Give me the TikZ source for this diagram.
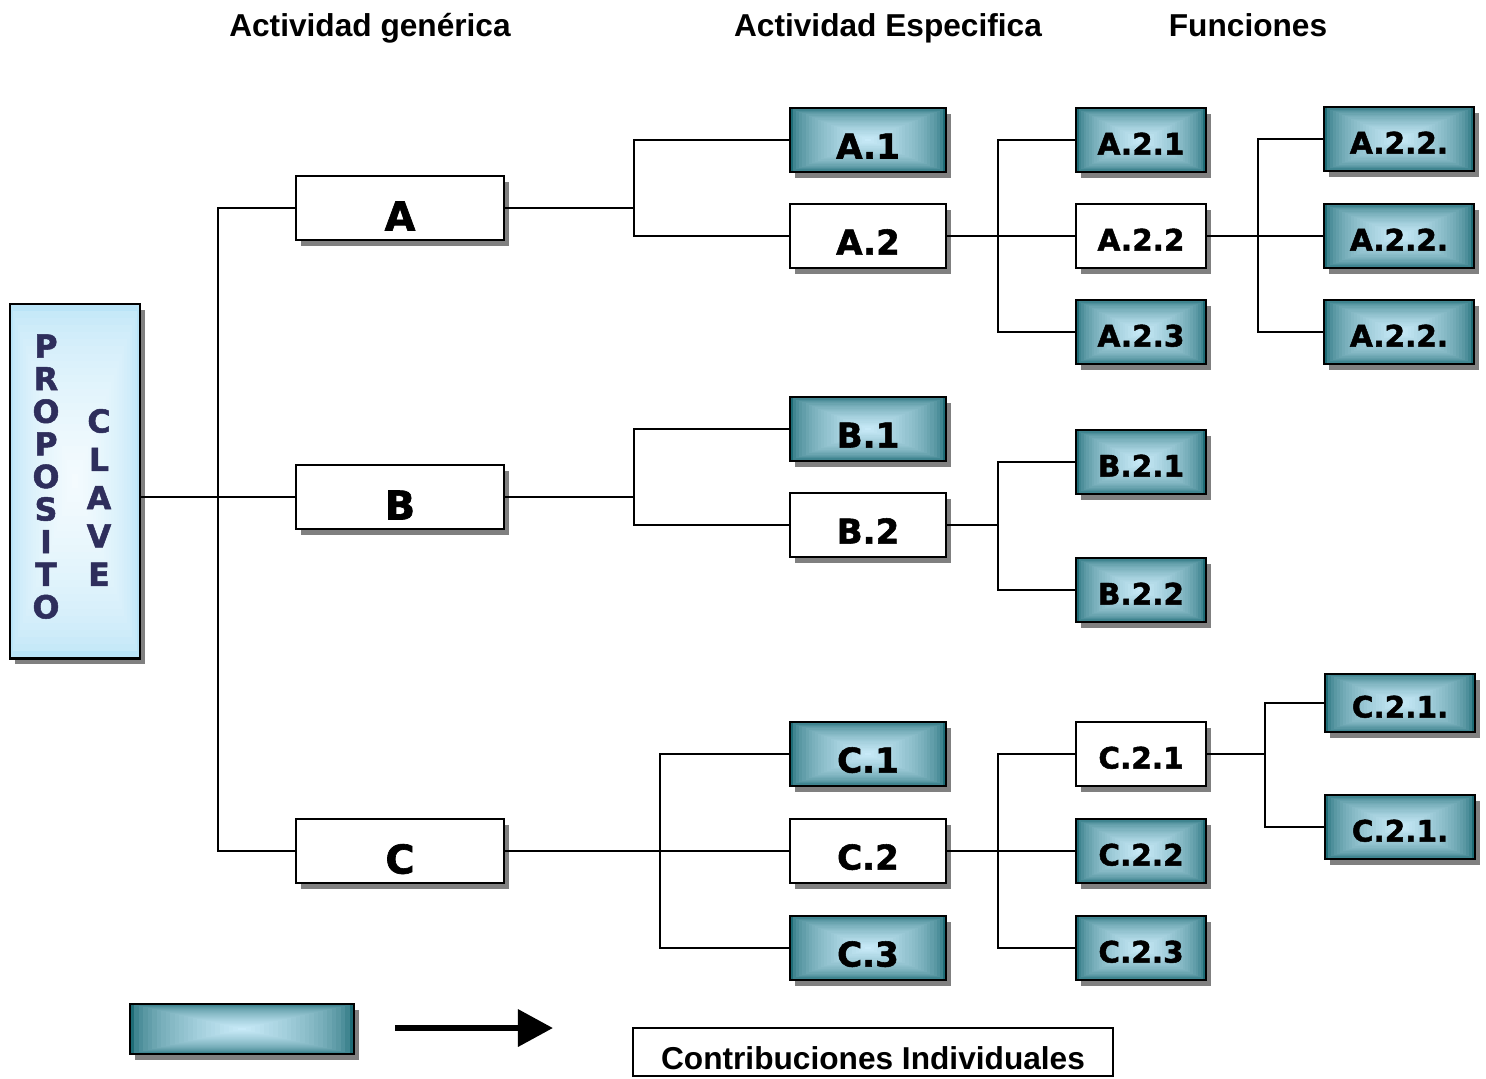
\documentclass[tikz,border=0pt]{standalone}
\usepackage{fontspec}
\setmainfont{Liberation Sans}
\newfontfamily\blockfont{DejaVu Sans}[BoldFeatures={FakeBold=1.6}]
\usetikzlibrary{arrows.meta,calc,shadows}
\definecolor{tealedge}{RGB}{30,108,118}
\definecolor{tealcenter}{RGB}{200,234,248}
\definecolor{propedge}{RGB}{186,228,247}
\definecolor{propcenter}{RGB}{244,251,254}
\definecolor{letterblue}{RGB}{46,46,92}
\definecolor{shadowgray}{RGB}{128,128,128}

\begin{document}
\begin{tikzpicture}[x=0.01cm,y=-0.01cm]
	\tikzset{box/.style = {shape=rectangle,draw,line width=0.8pt,fill=white,
			inner sep=0pt,text depth=0pt,
			drop shadow={shadow xshift=0.05cm,shadow yshift=-0.06cm,
				fill=shadowgray,opacity=1}}}
	\tikzset{gradfill/.style 2 args = {path picture={
			\foreach \k in {0,...,24}{
				\pgfmathtruncatemacro\pc{100*sqrt(\k/24)}
				\fill[#1!\pc!#2]
				($(path picture bounding box.south west)!\k/50!(path picture bounding box.north east)$)
				rectangle
				($(path picture bounding box.north east)!\k/50!(path picture bounding box.south west)$);
			}}}}
	\tikzset{shade/.style = {gradfill={tealcenter}{tealedge}}}
	\tikzset{lvlone/.style = {box,minimum width=2.08cm,minimum height=0.64cm,
			font=\blockfont\bfseries\fontsize{11.3}{12}\selectfont,text height=0.45cm}}
	\tikzset{lvltwo/.style = {box,minimum width=1.56cm,minimum height=0.64cm,
			font=\blockfont\bfseries\fontsize{9.7}{11}\selectfont,text height=0.37cm}}
	\tikzset{lvlthree/.style = {box,minimum width=1.30cm,minimum height=0.64cm,
			font=\blockfont\bfseries\fontsize{8.4}{10}\selectfont,text height=0.29cm}}
	\tikzset{lvlfour/.style = {box,minimum width=1.50cm,minimum height=0.64cm,
			font=\blockfont\bfseries\fontsize{8.4}{10}\selectfont,text height=0.29cm}}
	\tikzset{propletter/.style = {inner sep=0pt,text=letterblue,
			font=\blockfont\bfseries\fontsize{9}{10}\selectfont}}
	\tikzset{head/.style = {inner sep=0pt,anchor=base,
			font=\bfseries\fontsize{9}{10}\selectfont}}
	\tikzset{edge/.style = {-,line width=0.6pt}}
	\tikzset{bigarrow/.style = {-{Triangle[length=0.35cm,width=0.36cm]},line width=0.065cm}}
	\useasboundingbox (0,0) rectangle (1486,1078);
	% headings
	\node[head] (hgen) at (370,36) {Actividad genérica};
	\node[head] (hesp) at (888,36) {Actividad Especifica};
	\node[head] (hfun) at (1248,36) {Funciones};
	% vertices
	\node[box,gradfill={propcenter}{propedge},minimum width=1.30cm,minimum height=3.54cm] (prop) at (75,481) {};
	\foreach \ch [count=\i] in {P,R,O,P,O,S,I,T,O}
		\node[propletter] (propo\i) at (46,{346+32.6*(\i-1)}) {\ch};
	\foreach \ch [count=\i] in {C,L,A,V,E}
		\node[propletter] (clave\i) at (99,{421+38.3*(\i-1)}) {\ch};
	\node[lvlone] (A) at (400,208) {A};
	\node[lvlone] (B) at (400,497) {B};
	\node[lvlone] (C) at (400,851) {C};
	\node[lvltwo,shade] (A1) at (868,140) {A.1};
	\node[lvltwo] (A2) at (868,236) {A.2};
	\node[lvltwo,shade] (B1) at (868,429) {B.1};
	\node[lvltwo] (B2) at (868,525) {B.2};
	\node[lvltwo,shade] (C1) at (868,754) {C.1};
	\node[lvltwo] (C2) at (868,851) {C.2};
	\node[lvltwo,shade] (C3) at (868,948) {C.3};
	\node[lvlthree,shade] (A21) at (1141,140) {A.2.1};
	\node[lvlthree] (A22) at (1141,236) {A.2.2};
	\node[lvlthree,shade] (A23) at (1141,332) {A.2.3};
	\node[lvlthree,shade] (B21) at (1141,462) {B.2.1};
	\node[lvlthree,shade] (B22) at (1141,590) {B.2.2};
	\node[lvlthree] (C21) at (1141,754) {C.2.1};
	\node[lvlthree,shade] (C22) at (1141,851) {C.2.2};
	\node[lvlthree,shade] (C23) at (1141,948) {C.2.3};
	\node[lvlfour,shade] (A22a) at (1399,139) {A.2.2.};
	\node[lvlfour,shade] (A22b) at (1399,236) {A.2.2.};
	\node[lvlfour,shade] (A22c) at (1399,332) {A.2.2.};
	\node[lvlfour,shade,minimum height=0.58cm] (C21a) at (1400,703) {C.2.1.};
	\node[lvlfour,shade] (C21b) at (1400,827) {C.2.1.};
	% legend
	\node[box,shade,minimum width=2.24cm,minimum height=0.50cm] (legend) at (242,1029) {};
	\coordinate (arrowtail) at (395,1028);
	\coordinate (arrowtip) at (553,1028);
	\node[draw,line width=0.6pt,inner sep=0pt,minimum width=4.79cm,minimum height=0.48cm,
		text height=0.35cm,text depth=0pt,font=\bfseries\fontsize{9}{10}\selectfont]
		(contrib) at (873,1052) {Contribuciones Individuales};
	% junctions
	\coordinate (jP) at (218,497);
	\coordinate (jA) at (634,208);
	\coordinate (jA2) at (998,236);
	\coordinate (jA22) at (1258,236);
	\coordinate (jB) at (634,497);
	\coordinate (jB2) at (998,525);
	\coordinate (jC) at (660,851);
	\coordinate (jC2) at (998,851);
	\coordinate (jC21) at (1265,754);
	%edges
	\draw[edge] (prop.east |- B.west) to (B.west);
	\draw[edge] (jP) |- (A);
	\draw[edge] (jP) |- (C);
	\draw[edge] (A) to (jA);
	\draw[edge] (jA) |- (A1);
	\draw[edge] (jA) |- (A2);
	\draw[edge] (A2) to (A22);
	\draw[edge] (jA2) |- (A21);
	\draw[edge] (jA2) |- (A23);
	\draw[edge] (A22) to (A22b);
	\draw[edge] (jA22) |- (A22a);
	\draw[edge] (jA22) |- (A22c);
	\draw[edge] (B) to (jB);
	\draw[edge] (jB) |- (B1);
	\draw[edge] (jB) |- (B2);
	\draw[edge] (B2) to (jB2);
	\draw[edge] (jB2) |- (B21);
	\draw[edge] (jB2) |- (B22);
	\draw[edge] (C) to (C2);
	\draw[edge] (jC) |- (C1);
	\draw[edge] (jC) |- (C3);
	\draw[edge] (C2) to (C22);
	\draw[edge] (jC2) |- (C21);
	\draw[edge] (jC2) |- (C23);
	\draw[edge] (C21) to (jC21);
	\draw[edge] (jC21) |- (C21a);
	\draw[edge] (jC21) |- (C21b);
	\draw[bigarrow] (arrowtail) to (arrowtip);
\end{tikzpicture}
\end{document}
